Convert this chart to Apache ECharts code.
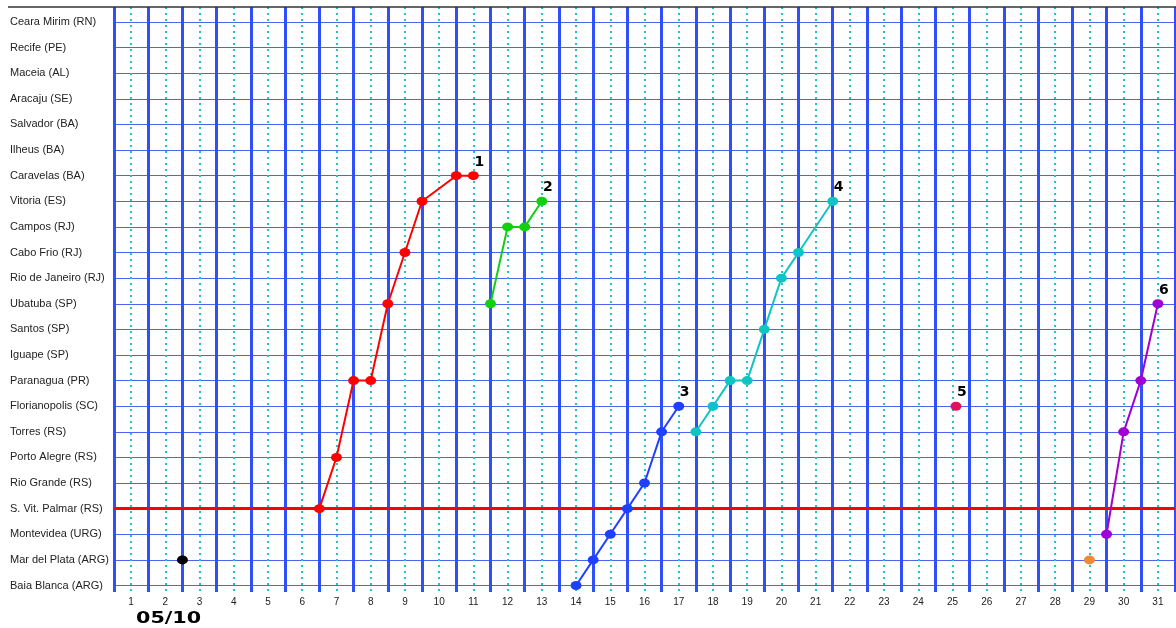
<!DOCTYPE html>
<html>
<head>
<meta charset="utf-8">
<script src="https://cdn.jsdelivr.net/npm/echarts@6/dist/echarts.min.js"></script>
<style>
  html, body { margin: 0; padding: 0; background: #fff; }
  #main { width: 1176px; height: 628px; }
</style>
</head>
<body>
<div id="main"></div>
<script>
// localidades, de baixo (0) para cima (22)
var categories = ['Baia Blanca (ARG)', 'Mar del Plata (ARG)', 'Montevidea (URG)', 'S. Vit. Palmar (RS)',
    'Rio Grande (RS)', 'Porto Alegre (RS)', 'Torres (RS)', 'Florianopolis (SC)', 'Paranagua (PR)',
    'Iguape (SP)', 'Santos (SP)', 'Ubatuba (SP)', 'Rio de Janeiro (RJ)', 'Cabo Frio (RJ)', 'Campos (RJ)',
    'Vitoria (ES)', 'Caravelas (BA)', 'Ilheus (BA)', 'Salvador (BA)', 'Aracaju (SE)', 'Maceia (AL)',
    'Recife (PE)', 'Ceara Mirim (RN)'];
var dayLabels = [];
for (var d = 1; d <= 31; d++) dayLabels.push(d);

// trajetorias (dia, indice da localidade)
var s1Days = [6.5, 7, 7.5, 8, 8.5, 9, 9.5, 10.5, 11];
var s1Rows = [3, 5, 8, 8, 11, 13, 15, 16, 16];
var s2Days = [11.5, 12, 12.5, 13];
var s2Rows = [11, 14, 14, 15];
var s3Days = [14, 14.5, 15, 15.5, 16, 16.5, 17];
var s3Rows = [0, 1, 2, 3, 4, 6, 7];
var s4Days = [17.5, 18, 18.5, 19, 19.5, 20, 20.5, 21.5];
var s4Rows = [6, 7, 8, 8, 10, 12, 13, 15];
var s5Days = [25.1];
var s5Rows = [7];
var s6Days = [29.5, 30, 30.5, 31];
var s6Rows = [2, 6, 8, 11];
var blackDays = [2.5], blackRows = [1];
var orangeDays = [29], orangeRows = [1];
var limitRow = 3;

function pts(xs, ys) {
    return xs.map(function (x, i) { return [x, ys[i]]; });
}

function track(name, xs, ys, color, showName) {
    var last = xs.length - 1;
    return {
        name: name,
        type: 'line',
        xAxisIndex: 1,
        yAxisIndex: 1,
        data: pts(xs, ys),
        symbol: 'circle',
        symbolSize: [11, 9],
        showAllSymbol: true,
        lineStyle: { color: color, width: 2 },
        itemStyle: { color: color },
        animation: false,
        z: 5,
        label: {
            show: showName,
            position: 'top',
            distance: 1,
            offset: [6, -1],
            fontFamily: 'DejaVu Sans',
            fontWeight: 'bold',
            fontSize: 14,
            color: '#000',
            formatter: function (p) { return p.dataIndex === last ? name : ''; }
        }
    };
}

var myChart = echarts.init(document.getElementById('main'));

var series = [
    track('1', s1Days, s1Rows, '#ff0000', true),
    track('2', s2Days, s2Rows, '#10d010', true),
    track('3', s3Days, s3Rows, '#2040ff', true),
    track('4', s4Days, s4Rows, '#10c4c4', true),
    track('5', s5Days, s5Rows, '#e0105a', true),
    track('6', s6Days, s6Rows, '#a000d0', true),
    track('a', blackDays, blackRows, '#000000', false),
    track('b', orangeDays, orangeRows, '#f08a30', false)
];
// linha vermelha de referencia
series[0].markLine = {
    silent: true,
    symbol: 'none',
    label: { show: false },
    animation: false,
    lineStyle: { color: '#ff0000', width: 3, type: 'solid' },
    data: [{ yAxis: limitRow }]
};

var option = {
    backgroundColor: '#fff',
    animation: false,
    grid: [
        { left: 114, right: 1, top: 7, bottom: 36 },
        { left: 114, right: 1, top: 22, bottom: 42.5 }
    ],
    xAxis: [{
        gridIndex: 0,
        type: 'value',
        min: 0.5,
        max: 31.5,
        interval: 1,
        axisLine: { show: false },
        axisTick: { show: false },
        splitLine: { show: true, lineStyle: { color: '#3050fa', width: 3 } },
        minorTick: { show: false, splitNumber: 2 },
        minorSplitLine: { show: true, lineStyle: { color: '#20c4cc', width: 2, type: [2, 4] } },
        axisLabel: {
            customValues: dayLabels,
            margin: 5,
            fontFamily: 'Liberation Sans',
            fontSize: 10,
            color: '#222'
        }
    }, {
        gridIndex: 1,
        type: 'value',
        min: 0.5,
        max: 31.5,
        show: false
    }],
    yAxis: [{
        gridIndex: 0,
        type: 'value',
        show: false
    }, {
        gridIndex: 1,
        type: 'value',
        min: 0,
        max: categories.length - 1,
        interval: 1,
        axisLine: { show: false },
        axisTick: { show: false },
        splitLine: { show: true, lineStyle: { color: '#4a66f0', width: 1 } },
        axisLabel: {
            margin: 104,
            align: 'left',
            verticalAlign: 'middle',
            padding: [0, 0, 9, 0],
            fontFamily: 'Liberation Sans',
            fontSize: 11,
            color: '#222',
            formatter: function (v) { return categories[v] || ''; }
        }
    }],
    graphic: [{
        type: 'line',
        shape: { x1: 8, y1: 7, x2: 1176, y2: 7 },
        style: { stroke: '#333', lineWidth: 1.5 },
        z: 10
    }, {
        type: 'text',
        left: 136,
        top: 612,
        scaleX: 1.38,
        style: {
            text: '05/10',
            font: 'bold 15px "DejaVu Sans"',
            fill: '#000'
        }
    }],
    series: series
};
myChart.setOption(option);
</script>
</body>
</html>
